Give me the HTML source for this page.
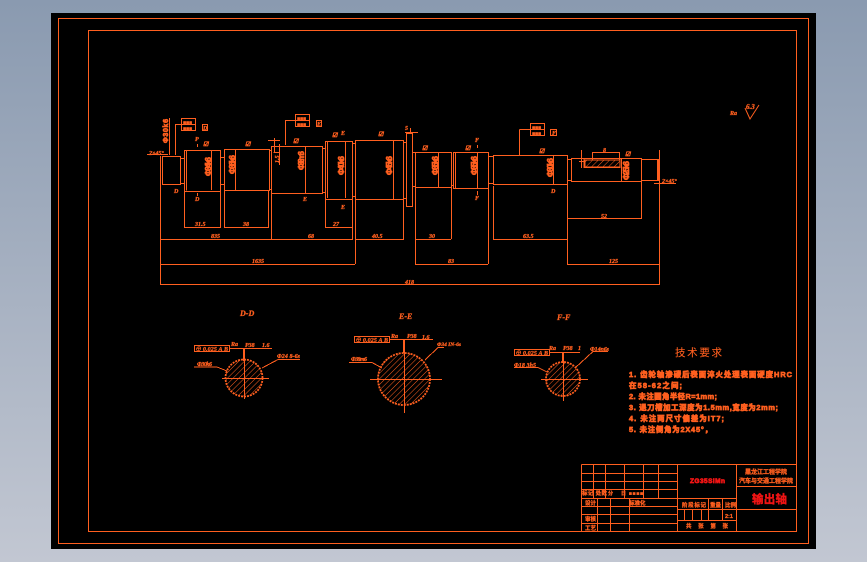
<!DOCTYPE html>
<html><head><meta charset="utf-8"><style>
html,body{margin:0;padding:0;width:867px;height:562px;overflow:hidden;background:linear-gradient(#8a9ab0,#c2c7d2)}
svg{position:absolute;left:0;top:0}
text{font-family:"Liberation Serif","Noto Serif CJK SC",serif;fill:#ff5f1f;stroke:#ff5f1f;stroke-width:.3px;font-size:6px;font-style:italic;font-weight:bold}
.c{font-family:"Liberation Sans","Noto Sans CJK SC",sans-serif;font-style:normal;font-weight:bold}
.v{font-size:6px}
.b{stroke-width:.7px}
.r{fill:#f01414;stroke:#f01414}
</style></head><body>
<svg width="867" height="562" viewBox="0 0 867 562" xmlns="http://www.w3.org/2000/svg">
<defs><pattern id="h" width="4" height="4" patternUnits="userSpaceOnUse" patternTransform="rotate(45)"><line x1="0" y1="0" x2="0" y2="4" stroke="#ff5f1f" stroke-width="1"/></pattern></defs>
<rect x="51" y="13" width="765" height="536" fill="#000"/>
<g fill="none" stroke="#ff5f1f" stroke-width="1" shape-rendering="crispEdges">
<rect x="58.500" y="18.500" width="750" height="525"/>
<rect x="88.500" y="30.500" width="708" height="501"/>
<!-- shaft -->
<rect x="162.500" y="156.500" width="18" height="28"/>
<rect x="184.500" y="150.500" width="36" height="41"/>
<path d="M186.500 150.500V190.500M181 158.500H184M181 183.500H184M211.500 151V190M221 157.500H224M221 184.500H224"/>
<rect x="224.500" y="149.500" width="45" height="41"/>
<path d="M235.500 150V190"/>
<rect x="271.500" y="146.500" width="51" height="47"/>
<path d="M305.500 147V193M269 150.500H271M269 189.500H271M322 148.500H325M322 192.500H325"/>
<rect x="325.500" y="141.500" width="27" height="58"/>
<path d="M327.500 142V198M345.500 142V198"/>
<rect x="355.500" y="140.500" width="48" height="59"/>
<path d="M393.500 141V199M352 143.500H355M352 196.500H355M403 142.500H406M403 198.500H406"/>
<rect x="406.500" y="133.500" width="6" height="73"/>
<path d="M412 152.500H415M412 186.500H415"/>
<rect x="415.500" y="152.500" width="36" height="35"/>
<path d="M438.500 153V187"/>
<rect x="453.500" y="152.500" width="35" height="36"/>
<path d="M455.500 153V188M477.500 153V188M451 185.500H453M488 156.500H493M488 183.500H493"/>
<rect x="493.500" y="155.500" width="74" height="29"/>
<path d="M553.500 156V184M567 159.500H571M567 180.500H571"/>
<rect x="571.500" y="158.500" width="70" height="23"/>
<path d="M621.500 159V181"/>
<rect x="641.500" y="159.500" width="17" height="21"/>
<path d="M657.500 160V180"/>
<!-- extension lines -->
<path d="M160.500 156V284M184.500 192V227M220.500 192V227M224.500 191V227M268.500 191V227M271.500 194V240M352.500 199V240M325.500 200V227M355.500 200V264M403.500 200V240M415.500 188V264M451.500 188V239M488.500 189V264M493.500 186V239M567.500 185V264M641.500 182V218M659.500 150V284"/>
<!-- dim lines -->
<path d="M184 227.500H221M224 227.500H269M325 227.500H352M567 218.500H642M160 239.500H352M271 239.500H352M355 239.500H403M415 239.500H451M493 239.500H567M160 264.500H355M415 264.500H488M567 264.500H660M160 284.500H660"/>
<!-- leaders -->
<path d="M147 154.500H168M169.500 118V155M175.500 124V155M175 124.500H181M197.500 144V147M197.500 193V196"/>
<path d="M285.500 120V145M285.500 120.500H295M268 140.500H280M274.500 138V152M273.500 152.500H280M279.500 144V165"/>
<path d="M519.500 129.500V155M519.500 129.500H530M477.500 145V148M477.500 191V195"/>
<path d="M405 132.500H418M410.500 128V133M654 183.500H676"/>
<!-- tol frames -->
<rect x="181.500" y="118.500" width="14" height="6"/><rect x="181.500" y="124.500" width="14" height="6"/><rect x="202.500" y="124.500" width="5" height="6"/>
<rect x="295.500" y="114.500" width="14" height="6"/><rect x="295.500" y="120.500" width="14" height="6"/><rect x="316.500" y="120.500" width="5" height="6"/>
<rect x="530.500" y="123.500" width="14" height="6"/><rect x="530.500" y="129.500" width="14" height="6"/><rect x="550.500" y="129.500" width="6" height="6"/>
<!-- keyway -->
<path d="M592.500 160V153M619.500 160V153M592 152.500H620M584 158.500V167.500H620V158.500"/>
<rect x="585" y="160" width="35" height="7" fill="url(#h)"/>
<path d="M581.500 150V168M579 161.500H584"/>
<!-- section leaders -->
<path d="M229 348.500H272M227 371L217 367H194M262 368L278 359.500H300"/>
<rect x="194.500" y="345.500" width="35" height="6"/>
<path d="M389 339.500H433M382 368L372 362.500H349M425 360L438 347.500H444"/>
<rect x="354.500" y="336.500" width="35" height="6"/>
<path d="M549 352.500H580M547 372L538 367.500H514M575 368L593 351.500H608"/>
<rect x="514.500" y="349.500" width="35" height="6"/>
<!-- title block -->
<path d="M581.500 464.500H796M581.500 464.500V531M581 473.500H677M581 481.500H677M581 489.500H677M581 498.500H677M581 506.500H677M581 514.500H677M581 523.500H677M593.500 465V498M605.500 465V498M624.500 465V498M643.500 465V498M658.500 465V498M597.500 498V531M610.500 498V531M629.500 498V531M677.500 464V531M736.500 464V531M677 498.500H736M677 509.500H796M677 520.500H736M736 486.500H796M708.500 498V520M722.500 498V520M684.500 509V520M692.500 509V520M701.500 509V520"/>
</g>
<!-- circles -->
<g fill="url(#h)" stroke="#ff5f1f" stroke-width="1.800" stroke-dasharray="2 1">
<circle cx="244" cy="378" r="18.500"/>
<circle cx="404" cy="379" r="26"/>
<circle cx="563" cy="379" r="17"/>
</g>
<g stroke="#ff5f1f" stroke-width="1" shape-rendering="crispEdges" fill="none">
<path d="M222 378.500H269M244.500 360V399M370 379.500H442M404.500 352V413M541 379.500H588M563.500 360V401"/>
</g>
<g stroke="#ff5f1f" stroke-width="2" fill="none" shape-rendering="crispEdges"><path d="M244 349V361M404 340V353M563 353V363"/></g>
<!-- labels -->
<text class="c b" transform="translate(168 143) rotate(-90)" textLength="24" style="font-size:7px">Φ30k6</text>
<text x="149" y="155">2×45°</text>
<text class="c b" transform="translate(211 176) rotate(-90)" textLength="19" style="font-size:8px">Φ34k6</text>
<text class="c b" transform="translate(235 174) rotate(-90)" textLength="19" style="font-size:8px">Φ36k6</text>
<text class="c b" transform="translate(304 170) rotate(-90)" textLength="19" style="font-size:8px">Φ38m6</text>
<text class="c b" transform="translate(344 175) rotate(-90)" textLength="19" style="font-size:8px">Φ40k6</text>
<text class="c b" transform="translate(392 175) rotate(-90)" textLength="19" style="font-size:8px">Φ45k6</text>
<text class="c b" transform="translate(438 175) rotate(-90)" textLength="19" style="font-size:8px">Φ35k6</text>
<text class="c b" transform="translate(477 175) rotate(-90)" textLength="19" style="font-size:8px">Φ35k6</text>
<text class="c b" transform="translate(553 177) rotate(-90)" textLength="19" style="font-size:8px">Φ30k6</text>
<text class="c b" transform="translate(629 180) rotate(-90)" textLength="19" style="font-size:8px">Φ25k6</text>
<text transform="translate(279 163) rotate(-90)">1.5</text>
<text x="195" y="141">P</text><text x="195" y="201">D</text><text x="174" y="193">D</text>
<text x="303" y="201">E</text><text x="341" y="209">E</text><text x="341" y="135">E</text>
<text x="475" y="142">F</text><text x="475" y="200">F</text><text x="551" y="193">D</text>
<text x="405" y="130">5</text><text x="603" y="152">8</text>
<text x="203" y="146">☑</text><text x="245" y="146">☑</text><text x="242" y="147" opacity="0"> </text><text x="293" y="143">☑</text><text x="332" y="137">☑</text><text x="378" y="136">☑</text><text x="422" y="150">☑</text><text x="465" y="150">☑</text><text x="539" y="153">☑</text><text x="625" y="156">☑</text>
<text x="195" y="226">31.5</text><text x="243" y="226">38</text><text x="333" y="226">27</text>
<text x="211" y="238">835</text><text x="308" y="238">68</text><text x="372" y="238">40.5</text><text x="429" y="238">30</text><text x="523" y="238">63.5</text>
<text x="601" y="218">52</text><text x="252" y="263">1635</text><text x="448" y="263">83</text><text x="609" y="263">125</text><text x="405" y="284">418</text>
<text x="662" y="183">2×45°</text>
<text x="183" y="124" class="c" style="font-size:5px">■■■</text><text x="183" y="130" class="c" style="font-size:5px">■■■</text>
<text x="297" y="120" class="c" style="font-size:5px">■■■</text><text x="297" y="126" class="c" style="font-size:5px">■■■</text>
<text x="532" y="129" class="c" style="font-size:5px">■■■</text><text x="532" y="135" class="c" style="font-size:5px">■■■</text>
<text x="203" y="130">D</text><text x="317" y="126">E</text><text x="552" y="135">F</text>
<text x="730" y="115">Ra</text><text x="746" y="109" style="font-size:7px">6.3</text>
<path d="M745 108L750 119L759 105" stroke="#ff5f1f" fill="none"/>
<text x="240" y="316" style="font-size:8px">D-D</text><text x="399" y="319" style="font-size:8px">E-E</text><text x="557" y="320" style="font-size:8px">F-F</text>
<text x="195" y="351" class="v" textLength="33">⊕ 0.025 A B</text><text x="355" y="342" class="v" textLength="33">⊕ 0.025 A B</text><text x="515" y="355" class="v" textLength="33">⊕ 0.025 A B</text>
<text x="231" y="346">Ra</text><text x="245" y="347">P38</text><text x="262" y="347">1.6</text>
<text x="391" y="338">Ra</text><text x="407" y="338">P38</text><text x="422" y="339">1.6</text>
<text x="549" y="350">Ra</text><text x="563" y="350">P38</text><text x="578" y="350">1</text>
<text x="197" y="366" textLength="15">Φ30k6</text><text x="277" y="358" textLength="23">Φ24 8-6s</text>
<text x="351" y="361" textLength="16">Φ38m6</text><text x="437" y="346" style="font-size:5.500px" textLength="24">Φ34 IN-6s</text>
<text x="514" y="367" textLength="22">Φ18 3h5</text><text x="590" y="351" textLength="19">Φ14n6s</text>
<text class="c" x="675" y="356" style="font-size:10.500px;font-weight:normal;stroke-width:.1px" textLength="47">技术要求</text>
<text class="c b" x="629" y="377" style="font-size:7.400px" textLength="163" lengthAdjust="spacing">1. 齿轮轴渗碳后表面淬火处理表面硬度HRC</text>
<text class="c b" x="629" y="388" style="font-size:7.400px" textLength="53">在58-62之间;</text>
<text class="c b" x="629" y="399" style="font-size:7.400px" textLength="88">2. 未注圆角半径R=1mm;</text>
<text class="c b" x="629" y="410" style="font-size:7.400px" textLength="149">3. 退刀槽加工深度为1.5mm,宽度为2mm;</text>
<text class="c b" x="629" y="421" style="font-size:7.400px" textLength="95">4. 未注两尺寸偏差为IT7;</text>
<text class="c b" x="629" y="432" style="font-size:7.400px" textLength="83">5. 未注倒角为2X45°，</text>
<text class="c r b" x="690" y="483" style="font-size:6.500px" textLength="35">ZG35SiMn</text>
<text class="c" x="745" y="474" style="font-size:6px" textLength="42">黑龙江工程学院</text>
<text class="c" x="739" y="483" style="font-size:6px" textLength="54">汽车与交通工程学院</text>
<text class="c r" x="752" y="503" style="font-size:11.500px;stroke-width:.4px" textLength="35">输出轴</text>
<text class="c" x="582" y="495" style="font-size:5.500px" textLength="25">标记 处数</text><text class="c" x="608" y="495" style="font-size:5px">分</text><text class="c" x="621" y="495" style="font-size:5px" textLength="22">日 ■■■■</text>
<text class="c" x="585" y="505" style="font-size:5.500px">设计</text><text class="c" x="629" y="505" style="font-size:5.500px">标准化</text>
<text class="c" x="585" y="521" style="font-size:5.500px">审核</text><text class="c" x="585" y="530" style="font-size:5.500px">工艺</text>
<text class="c" x="682" y="507" style="font-size:5.500px" textLength="24">阶段标记</text><text class="c" x="710" y="507" style="font-size:5.500px">重量</text><text class="c" x="725" y="507" style="font-size:5.500px">比例</text>
<text class="c" x="725" y="518" style="font-size:5.500px">2:1</text>
<text class="c" x="686" y="528" style="font-size:5.500px" textLength="42">共张第张</text>
</svg>
</body></html>
